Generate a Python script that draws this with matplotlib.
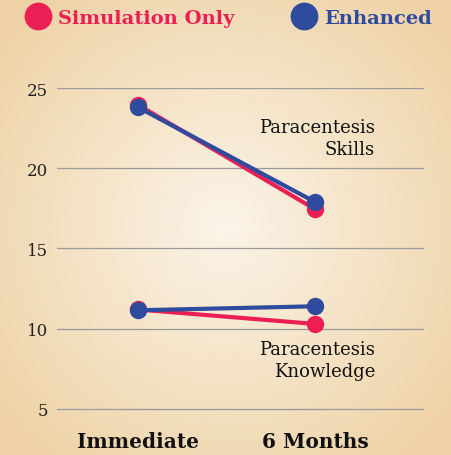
import numpy as np
import matplotlib.pyplot as plt
from matplotlib.lines import Line2D

# data
timepoints = ["Immediate", "6 Months"]
skills_sim = [23.95, 17.45]
skills_enh = [23.8, 17.9]
know_sim = [11.2, 10.3]
know_enh = [11.15, 11.4]
yticks = [5, 10, 15, 20, 25]

pink = "#EC1F55"
blue = "#2F4B9E"
serif = ["DejaVu Serif"]
plt.rcParams['font.family'] = serif

fig = plt.figure(figsize=(4.51, 4.56), dpi=100)

# radial gradient background
bg = fig.add_axes([0, 0, 1, 1])
yy, xx = np.mgrid[-1:1:300j, -1:1:300j]
r = np.sqrt((xx * 0.95) ** 2 + ((yy + 0.0) * 0.95) ** 2)
r = np.clip(r / 1.25, 0, 1)
c0 = np.array([251, 244, 232]) / 255
c1 = np.array([238, 210, 165]) / 255
img = c0[None, None, :] * (1 - r[..., None]) + c1[None, None, :] * r[..., None]
bg.imshow(img, aspect="auto", extent=[0, 1, 0, 1])
bg.axis("off")

ax = fig.add_axes([57 / 451, 44.4 / 456, 367 / 451, 322.6 / 456])
ax.set_facecolor("none")
x = np.arange(len(timepoints))

for ys, col in [(skills_sim, pink), (know_sim, pink), (skills_enh, blue), (know_enh, blue)]:
    ax.plot(x, ys, color=col, lw=3, marker="o", ms=11.5, clip_on=False,
            solid_capstyle="round")

ax.set_xlim(-0.458, 1.616)
ax.set_ylim(4.9, 25)
ax.set_yticks(yticks)
ax.yaxis.grid(True, color="#9A9A9A", lw=0.9)
ax.set_axisbelow(True)
for s in ax.spines.values():
    s.set_visible(False)
ax.tick_params(axis="y", length=0, labelsize=12, pad=6.5, labelcolor="#222222")
ax.tick_params(axis="x", length=0, labelsize=14.5, pad=15)
ax.set_xticks(x)
ax.set_xticklabels(timepoints, fontweight="bold", color="#111111")

ax.text(1.339, 21.9, "Paracentesis\nSkills", ha="right", va="center",
        fontsize=13, color="#111111", linespacing=1.25)
ax.text(1.339, 8.06, "Paracentesis\nKnowledge", ha="right", va="center",
        fontsize=13, color="#111111", linespacing=1.25)

handles = [Line2D([], [], ls="none", marker="o", ms=19, color=pink),
           Line2D([], [], ls="none", marker="o", ms=19, color=blue)]
leg = fig.legend(handles, ["Simulation Only", "Enhanced"], loc="upper center",
                 bbox_to_anchor=(0.506, 1.016), ncol=2, frameon=False,
                 handletextpad=0.33, columnspacing=2.85, handlelength=1.4,
                 prop={"weight": "bold", "size": 14, "family": serif})
for t, c in zip(leg.get_texts(), [pink, blue]):
    t.set_color(c)

fig.savefig("out.png", dpi=100)
